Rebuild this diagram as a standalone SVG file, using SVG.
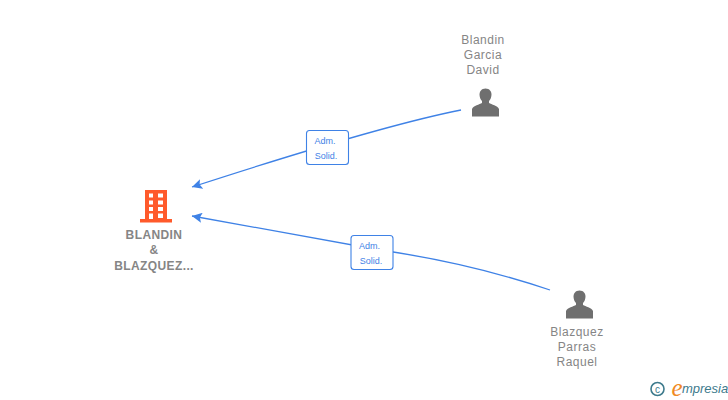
<svg xmlns="http://www.w3.org/2000/svg" width="728" height="400" viewBox="0 0 728 400">
<defs>
<marker id="arrow" markerUnits="userSpaceOnUse" markerWidth="11" markerHeight="10" refX="10" refY="5" orient="auto"><path d="M10 5L0 0L2 5L0 10Z" fill="#3f82e6"/></marker>
<path id="person" d="M0 -14.500C-4 -14.500 -6 -11.500 -6 -8.500C-6 -6 -5 -3.500 -3.500 -2V0C-6 1.500 -12 2.500 -13.500 6V13.500H13.500V6C12 2.500 6 1.500 3.500 0V-2C5 -3.500 6 -6 6 -8.500C6 -11.500 4 -14.500 0 -14.500Z" fill="#6f6f6f"/>
</defs>
<style>
text{font-family:"Liberation Sans",Arial,sans-serif;text-anchor:middle}
.c{fill:none;stroke:#3f82e6;stroke-width:1.300}
.b{fill:#fff;stroke:#3f82e6;stroke-width:1.100}
.e{font-size:9px;fill:#3f82e6}
.p{font-size:12px;fill:#858585;letter-spacing:.5px}
.o{font-size:12px;font-weight:bold;fill:#858585;letter-spacing:.4px}
</style>
<rect width="728" height="400" fill="#fff"/>
<g id="connectors">
<path class="c" marker-end="url(#arrow)" d="M461 110Q380 126 192 187"/>
<path class="c" marker-end="url(#arrow)" d="M550 290Q470 263 380 250L192 216"/>
</g>
<g id="edge-label-1"><rect class="b" x="306.500" y="130.500" width="42" height="34" rx="3"/><text class="e" x="325" y="144">Adm.</text><text class="e" x="326" y="159">Solid.</text></g>
<g id="edge-label-2"><rect class="b" x="351" y="235.500" width="42" height="34" rx="3"/><text class="e" x="369.500" y="249">Adm.</text><text class="e" x="371" y="264">Solid.</text></g>
<g id="node-company">
<path fill="#ff5a2b" fill-rule="evenodd" d="M145 190H167V219H172V222.500H140V219H145ZM149 193.500V197.500H153V193.500ZM158 193.500V197.500H163V193.500ZM149 200.500V204.500H153V200.500ZM158 200.500V204.500H163V200.500ZM149 207V211H153V207ZM158 207V211H163V207ZM149 213.500V219H153V213.500ZM158 213.500V218H163V213.500Z"/>
<text class="o" x="154" y="239">BLANDIN</text><text class="o" x="154" y="254">&amp;</text><text class="o" x="154" y="270">BLAZQUEZ...</text>
</g>
<g id="node-person-1"><use href="#person" x="485.500" y="103"/><text class="p" x="483" y="44">Blandin</text><text class="p" x="483" y="59">Garcia</text><text class="p" x="483" y="74">David</text></g>
<g id="node-person-2"><use href="#person" x="579.500" y="305"/><text class="p" x="577" y="336">Blazquez</text><text class="p" x="577" y="351">Parras</text><text class="p" x="577" y="366">Raquel</text></g>
<g id="logo">
<circle cx="657.500" cy="389" r="6.500" fill="none" stroke="#3d7a8c" stroke-width="1.600"/>
<text x="657.500" y="392.500" style="font-size:10px;fill:#3d7a8c">c</text>
<text x="677" y="396" style="font-size:25px;font-style:italic;fill:#f08a24;font-family:'Liberation Serif',serif">e</text>
<text x="705" y="393" style="font-size:13px;font-style:italic;fill:#3d7a8c">mpresia</text>
</g>
</svg>
